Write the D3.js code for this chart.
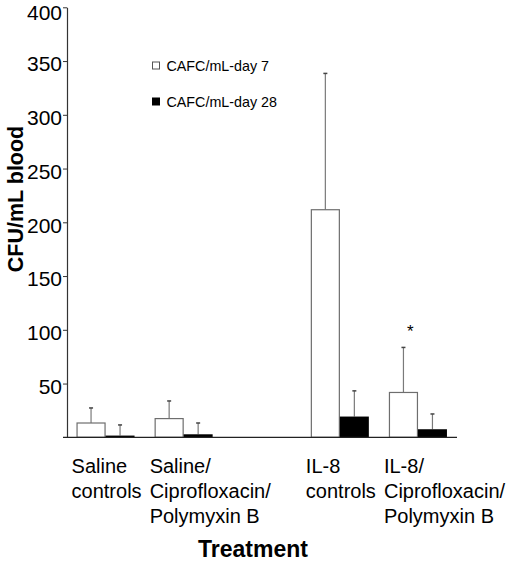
<!DOCTYPE html>
<html><head><meta charset="utf-8">
<script src="https://cdn.jsdelivr.net/npm/d3@7"></script>
<style>
html,body{margin:0;padding:0;background:#fff;}
svg{display:block;font-family:"Liberation Sans",Arial,sans-serif;}
</style></head>
<body>
<svg id="chart" width="520" height="561"></svg>
<script>
// ---- data ----
const categories = [
  ["Saline", "controls"],
  ["Saline/", "Ciprofloxacin/", "Polymyxin B"],
  ["IL-8", "controls"],
  ["IL-8/", "Ciprofloxacin/", "Polymyxin B"]
];
const slotKeys = ["S", "SC", "gap", "IL", "ILC"];
const categoryKeys = ["S", "SC", "IL", "ILC"];
const seriesNames = ["CAFC/mL-day 7", "CAFC/mL-day 28"];
const day7Means = [13.3, 17.4, 211.7, 41.7];
const day7Errors = [27.3, 33.8, 338.5, 83.6];
const day28Means = [1.6, 2.8, 19.3, 7.5];
const day28Errors = [11.5, 13.3, 43.2, 21.7];
const yTicks = [50, 100, 150, 200, 250, 300, 350, 400];
const significant = [false, false, false, true];

const svg = d3.select("#chart");
const axisX = 67, baseY = 437.3, topY = 7.3;

const y = d3.scaleLinear().domain([0, 400]).range([baseY, topY]);
const x0 = d3.scaleBand().domain(slotKeys).range([66.5, 457])
  .paddingInner(0.2574).paddingOuter(0.1287);
const x1 = d3.scaleBand().domain([0, 1]).range([0, x0.bandwidth()]);

const seriesMeans = [day7Means, day28Means];
const seriesErr = [day7Errors, day28Errors];
const fills = ["#fff", "#000"];
const strokes = ["#6e6e6e", "#000"];

// bars
categoryKeys.forEach((k, i) => {
  const g = svg.append("g").attr("transform", `translate(${x0(k)},0)`);
  [0, 1].forEach(s => {
    const v = seriesMeans[s][i], e = seriesErr[s][i];
    const bx = x1(s), bw = x1.bandwidth(), cx = bx + bw / 2;
    g.append("line").attr("x1", cx).attr("x2", cx)
      .attr("y1", y(v)).attr("y2", y(e))
      .attr("stroke", "#7a7a7a").attr("stroke-width", 1.2);
    g.append("line").attr("x1", cx - 2).attr("x2", cx + 2)
      .attr("y1", y(e)).attr("y2", y(e))
      .attr("stroke", "#444").attr("stroke-width", 1.5);
    g.append("rect")
      .attr("x", bx + (s === 0 ? 0.5 : 0)).attr("y", y(v))
      .attr("width", bw - (s === 0 ? 1 : 0)).attr("height", baseY - y(v))
      .attr("fill", fills[s]).attr("stroke", strokes[s]).attr("stroke-width", s === 0 ? 1.2 : 0);
    if (s === 0 && significant[i]) {
      g.append("text").attr("x", cx + 7).attr("y", y(e) - 10)
        .attr("text-anchor", "middle").attr("font-size", 17).text("*");
    }
  });
});

// y axis
const yAxis = d3.axisLeft(y).tickValues(yTicks).tickSize(4).tickPadding(1).tickSizeOuter(0);
const ga = svg.append("g").attr("transform", `translate(${axisX},0)`).call(yAxis);
ga.select(".domain").attr("stroke", "#333").attr("stroke-width", 1.2);
ga.selectAll(".tick line").attr("stroke", "#333");
ga.selectAll(".tick text").attr("font-size", 21).attr("fill", "#000")
  .attr("font-family", "Liberation Sans, Arial, sans-serif")
  .attr("dy", d => d === 400 ? "0.6em" : "0.47em");

// baseline
svg.append("line").attr("x1", 63).attr("x2", 457).attr("y1", baseY).attr("y2", baseY)
  .attr("stroke", "#222").attr("stroke-width", 1.3);

// category labels
categoryKeys.forEach((k, i) => {
  const t = svg.append("text").attr("font-size", 20).attr("fill", "#000");
  categories[i].forEach((line, j) => {
    t.append("tspan").attr("x", x0(k) - 5).attr("y", 473 + j * 25).text(line);
  });
});

// axis titles
svg.append("text").attr("x", 253).attr("y", 557).attr("text-anchor", "middle")
  .attr("font-size", 23).attr("font-weight", "bold").text("Treatment");
svg.append("text").attr("transform", "translate(23,199) rotate(-90)")
  .attr("text-anchor", "middle").attr("font-size", 21.5).attr("font-weight", "bold")
  .text("CFU/mL blood");

// legend
seriesNames.forEach((name, s) => {
  const ly = 62 + s * 36;
  svg.append("rect").attr("x", 152.5).attr("y", ly).attr("width", 7).attr("height", 7)
    .attr("fill", fills[s]).attr("stroke", s === 0 ? "#555" : "#000").attr("stroke-width", 1);
  svg.append("text").attr("x", 166.5).attr("y", ly + 8.5).attr("font-size", 14.3).text(name);
});
</script>
</body></html>
